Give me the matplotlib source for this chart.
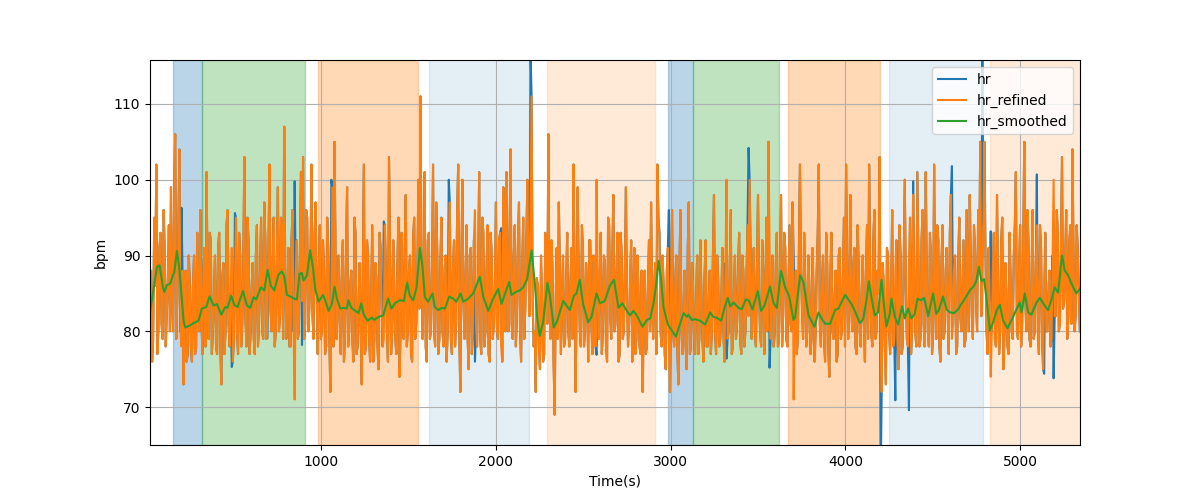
import matplotlib
matplotlib.use("Agg")
import matplotlib.pyplot as plt
import numpy as np

# heart rate, refined signal
# hr_refined_a: samples at t = 20, 32, 44, ... (every 12 s)
# hr_refined_b: samples at t = 26, 38, 50, ... (in between)
t_start = 20
t_step = 12
hr_refined_a = [
    83, 76, 95, 102, 80, 93, 79, 91, 82, 94,
    99, 80, 106, 84, 104, 78, 73, 88, 77, 86,
    76, 90, 78, 85, 96, 77, 91, 101, 79, 92,
    80, 90, 77, 93, 73, 89, 80, 96, 78, 91,
    79, 95, 77, 90, 81, 103, 78, 92, 80, 89,
    77, 94, 81, 95, 79, 92, 82, 102, 80, 95,
    80, 99, 82, 93, 107, 79, 91, 78, 96, 71,
    92, 80, 101, 103, 81, 95, 83, 102, 79, 97,
    77, 94, 80, 88, 78, 91, 72, 99, 105, 79,
    90, 77, 92, 79, 99, 80, 88, 76, 93, 78,
    89, 73, 102, 78, 90, 76, 94, 79, 87, 75,
    91, 78, 94, 80, 103, 77, 92, 79, 89, 74,
    93, 79, 98, 80, 90, 76, 95, 81, 100, 111,
    79, 101, 76, 93, 80, 102, 78, 91, 79, 95,
    78, 90, 80, 97, 77, 92, 81, 102, 72, 100,
    79, 94, 75, 91, 80, 96, 78, 101, 77, 93,
    80, 94, 76, 90, 81, 97, 79, 93, 76, 95,
    101, 80, 104, 79, 94, 82, 97, 76, 95, 83,
    100, 82, 111, 78, 72, 86, 75, 84, 77, 89,
    106, 79, 88, 69, 91, 97, 77, 90, 79, 93,
    78, 91, 102, 72, 99, 80, 94, 78, 89, 76,
    92, 77, 88, 100, 79, 93, 80, 89, 76, 94,
    79, 98, 81, 93, 77, 90, 80, 99, 78, 87,
    76, 91, 79, 85, 77, 72, 88, 78, 92, 97,
    79, 89, 102, 93, 78, 86, 75, 91, 72, 96,
    78, 90, 73, 96, 77, 88, 75, 97, 78, 86,
    77, 90, 79, 85, 76, 92, 78, 88, 80, 98,
    77, 87, 79, 91, 76, 100, 80, 96, 78, 90,
    81, 93, 77, 88, 80, 94, 100, 79, 91, 78,
    98, 80, 92, 77, 95, 105, 79, 90, 80, 93,
    79, 98, 82, 91, 78, 94, 80, 71, 88, 79,
    102, 83, 93, 78, 90, 77, 91, 76, 88, 102,
    78, 90, 76, 89, 74, 93, 79, 88, 77, 91,
    80, 95, 102, 79, 98, 80, 91, 77, 89, 78,
    90, 76, 94, 102, 80, 92, 79, 88, 103, 72,
    86, 73, 90, 77, 96, 79, 92, 75, 90, 78,
    100, 79, 89, 77, 98, 80, 101, 78, 92, 81,
    101, 80, 93, 77, 102, 79, 92, 76, 94, 80,
    91, 77, 98, 81, 90, 78, 95, 80, 92, 79,
    88, 98, 82, 94, 84, 96, 105, 85, 105, 80,
    91, 74, 88, 79, 98, 77, 92, 75, 89, 78,
    93, 80, 90, 101, 79, 94, 81, 105, 80, 92,
    78, 96, 80, 94, 77, 91, 75, 93, 80, 88,
    79, 100, 82, 93, 81, 103, 84, 96, 82, 94,
    104, 80, 94, 85,
]
hr_refined_b = [
    88, 79, 86, 77, 91, 81, 96, 78, 87, 80,
    84, 97, 79, 92, 80, 88, 85, 76, 90, 78,
    86, 77, 93, 80, 82, 88, 78, 84, 93, 77,
    85, 78, 91, 79, 87, 77, 94, 81, 85, 76,
    86, 80, 93, 78, 89, 82, 95, 77, 86, 79,
    90, 78, 88, 80, 97, 79, 91, 83, 88, 78,
    89, 80, 95, 79, 88, 84, 78, 92, 80, 87,
    79, 90, 84, 79, 96, 80, 89, 82, 93, 85,
    88, 79, 92, 77, 95, 80, 86, 78, 90, 84,
    81, 88, 76, 90, 78, 86, 79, 95, 77, 84,
    80, 87, 77, 92, 79, 85, 76, 89, 78, 93,
    83, 79, 88, 76, 90, 80, 86, 77, 95, 80,
    84, 91, 78, 88, 77, 92, 79, 87, 83, 90,
    86, 78, 92, 79, 88, 80, 97, 77, 89, 80,
    88, 76, 91, 79, 88, 78, 96, 80, 89, 84,
    87, 79, 90, 77, 92, 81, 88, 79, 95, 78,
    88, 77, 93, 79, 86, 80, 92, 78, 99, 80,
    88, 93, 81, 90, 78, 92, 80, 88, 79, 92,
    88, 96, 84, 80, 87, 78, 90, 76, 93, 81,
    85, 92, 76, 84, 79, 88, 84, 78, 87, 80,
    86, 79, 88, 84, 87, 78, 91, 80, 85, 92,
    81, 90, 78, 86, 88, 77, 90, 78, 95, 82,
    90, 80, 88, 76, 93, 79, 88, 84, 81, 92,
    83, 77, 90, 78, 88, 82, 77, 86, 80, 84,
    86, 77, 95, 80, 90, 77, 88, 79, 86, 80,
    86, 78, 88, 80, 83, 78, 91, 77, 89, 79,
    85, 77, 92, 79, 87, 78, 84, 77, 90, 80,
    90, 78, 84, 80, 89, 79, 88, 77, 85, 79,
    88, 79, 90, 78, 87, 82, 90, 86, 80, 88,
    85, 78, 88, 84, 80, 91, 85, 78, 89, 78,
    89, 78, 93, 79, 86, 81, 97, 82, 77, 90,
    88, 79, 87, 80, 86, 79, 85, 80, 93, 81,
    86, 79, 93, 78, 87, 80, 84, 76, 90, 79,
    87, 78, 89, 84, 83, 89, 78, 94, 80, 86,
    81, 88, 79, 87, 78, 96, 80, 85, 79, 89,
    78, 91, 80, 85, 78, 88, 79, 94, 77, 89,
    86, 78, 95, 80, 87, 78, 89, 79, 96, 78,
    88, 78, 90, 79, 85, 94, 78, 89, 79, 88,
    82, 93, 79, 88, 77, 89, 82, 86, 78, 96,
    80, 89, 79, 91, 80, 88, 82, 94, 90, 77,
    84, 80, 93, 78, 86, 80, 95, 79, 85, 77,
    87, 79, 94, 80, 88, 78, 92, 84, 96, 79,
    88, 79, 89, 80, 94, 79, 87, 80, 85, 78,
    90, 82, 96, 80, 91, 83, 89, 79, 92, 81,
    90, 82, 91, 80,
]

# raw hr differs from the refined signal only at these outliers
hr_outlier_t = [203, 489, 508, 695, 847, 889, 1061, 1357, 1729, 1881,
                2028, 2200, 2578, 2988, 3322, 3446, 3566, 3707, 4203, 4285,
                4367, 4386, 4609, 4786, 4832, 5096, 5138, 5191]
hr_outlier_v = [96.3, 75.3, 95.6, 79.1, 99.8, 78.2, 100.0, 94.5, 100.0, 76.0,
                93.6, 117.0, 76.9, 96.0, 76.4, 104.2, 75.2, 89.9, 60.0, 70.9,
                69.6, 99.8, 101.8, 117.0, 93.2, 100.7, 74.4, 73.8]

# smoothed hr
t_smooth = [21, 60, 75, 94, 102, 117, 136, 151, 159, 174, 189, 212, 222, 250, 279,
            298, 317, 342, 361, 384, 403, 428, 451, 464, 485, 502, 521, 552, 575,
            594, 613, 628, 655, 674, 693, 712, 731, 756, 775, 788, 804, 823, 846,
            861, 876, 889, 899, 918, 937, 952, 966, 985, 1010, 1023, 1042, 1061,
            1076, 1090, 1109, 1128, 1147, 1156, 1172, 1195, 1214, 1229, 1242, 1265,
            1290, 1303, 1328, 1355, 1383, 1402, 1422, 1450, 1473, 1492, 1507, 1527,
            1546, 1565, 1580, 1593, 1612, 1637, 1650, 1670, 1689, 1708, 1733, 1755,
            1774, 1797, 1813, 1841, 1870, 1908, 1927, 1956, 1984, 2013, 2032, 2051,
            2076, 2089, 2114, 2137, 2156, 2179, 2204, 2223, 2236, 2251, 2270, 2295,
            2309, 2331, 2351, 2385, 2404, 2423, 2446, 2461, 2480, 2499, 2528, 2547,
            2576, 2595, 2623, 2652, 2675, 2702, 2724, 2749, 2768, 2787, 2806, 2839,
            2864, 2883, 2902, 2915, 2931, 2946, 2959, 2984, 3007, 3030, 3054, 3074,
            3093, 3102, 3121, 3140, 3169, 3198, 3226, 3245, 3264, 3289, 3312, 3327,
            3341, 3360, 3388, 3407, 3430, 3446, 3468, 3499, 3518, 3537, 3569, 3589,
            3608, 3632, 3655, 3678, 3703, 3713, 3741, 3760, 3789, 3823, 3846, 3861,
            3884, 3913, 3941, 3960, 3999, 4035, 4054, 4083, 4102, 4121, 4134, 4149,
            4168, 4187, 4207, 4222, 4235, 4254, 4264, 4283, 4302, 4325, 4340, 4359,
            4378, 4397, 4413, 4432, 4451, 4474, 4502, 4521, 4535, 4559, 4579, 4598,
            4622, 4645, 4664, 4687, 4712, 4737, 4750, 4764, 4779, 4794, 4807, 4827,
            4846, 4865, 4884, 4903, 4928, 4950, 4979, 4998, 5008, 5027, 5046, 5065,
            5094, 5113, 5141, 5160, 5179, 5198, 5218, 5240, 5256, 5275, 5294, 5322,
            5345]
hr_smoothed = [82.7, 88.5, 88.7, 85.8, 85.2, 86.1, 86.3, 87.4, 87.8, 90.6, 88.1, 81.4,
               80.5, 80.8, 81.2, 81.4, 83.0, 83.2, 84.6, 83.4, 83.6, 82.2, 83.2, 83.1,
               84.7, 83.5, 83.2, 85.3, 83.4, 83.1, 84.5, 84.2, 85.8, 85.4, 88.1, 86.0,
               85.4, 87.5, 87.9, 87.3, 84.8, 84.6, 84.3, 84.2, 87.6, 87.7, 86.7, 87.4,
               90.7, 88.5, 85.5, 83.9, 84.8, 84.1, 82.7, 83.6, 85.9, 84.3, 83.0, 83.1,
               83.0, 84.1, 83.1, 82.7, 82.4, 83.7, 82.3, 81.4, 81.8, 81.5, 81.9, 82.1,
               84.3, 83.0, 83.7, 84.1, 84.0, 86.4, 84.7, 84.1, 85.8, 91.0, 88.5, 84.5,
               83.9, 85.0, 83.2, 82.8, 83.1, 83.0, 84.6, 84.3, 83.9, 85.0, 83.9, 84.3,
               85.0, 87.2, 84.6, 82.7, 84.3, 85.6, 83.6, 84.9, 86.5, 84.8, 85.2, 85.4,
               85.8, 86.9, 90.7, 86.2, 81.8, 79.4, 81.2, 86.4, 84.7, 80.5, 81.4, 84.0,
               83.4, 82.8, 84.7, 85.0, 86.8, 83.6, 81.2, 81.9, 85.0, 83.7, 84.0, 86.0,
               86.8, 83.1, 83.7, 82.7, 82.1, 82.7, 82.1, 80.6, 81.5, 81.7, 83.7, 85.8,
               89.3, 86.7, 83.2, 80.9, 80.1, 79.3, 81.0, 82.4, 81.9, 82.2, 81.5, 81.6,
               81.4, 80.9, 82.5, 81.9, 81.8, 81.4, 83.4, 84.4, 83.3, 83.8, 83.1, 82.9,
               84.2, 84.1, 82.9, 85.3, 82.7, 83.4, 85.9, 83.7, 83.1, 88.0, 85.8, 84.7,
               81.5, 81.9, 87.4, 86.5, 82.1, 80.6, 82.5, 81.8, 81.0, 81.0, 82.8, 83.0,
               84.8, 83.6, 82.7, 81.1, 81.6, 84.1, 86.6, 84.5, 82.1, 82.5, 86.8, 83.2,
               80.6, 82.3, 84.3, 81.9, 80.9, 83.3, 81.7, 83.0, 81.7, 82.3, 84.3, 84.1,
               84.4, 82.0, 85.0, 82.3, 82.8, 84.6, 82.9, 82.5, 82.4, 82.9, 83.6, 84.4,
               85.4, 86.0, 86.7, 88.5, 86.6, 86.9, 84.5, 80.1, 81.2, 82.7, 83.5, 81.4,
               80.4, 81.4, 82.9, 83.8, 82.5, 85.0, 82.5, 82.2, 83.8, 84.4, 83.4, 82.8,
               84.1, 85.8, 85.1, 90.0, 88.0, 87.4, 86.3, 85.0, 85.7]

# activity periods (seconds)
span_start = [153, 319, 983, 1618, 2293, 2986, 3129, 3672, 4250, 4828]
span_end = [319, 908, 1555, 2190, 2911, 3129, 3621, 4199, 4788, 5345]

span_color = ['tab:blue', 'tab:green', 'tab:orange', 'tab:blue', 'tab:orange',
              'tab:blue', 'tab:green', 'tab:orange', 'tab:blue', 'tab:orange']
span_alpha = [0.3, 0.3, 0.3, 0.12, 0.16, 0.3, 0.3, 0.3, 0.12, 0.16]

#interleave the two sample sets and build the raw hr
hr_refined = np.empty(len(hr_refined_a) + len(hr_refined_b))
hr_refined[0::2] = hr_refined_a
hr_refined[1::2] = hr_refined_b
t_refined = t_start + (t_step / 2) * np.arange(len(hr_refined))

hr = hr_refined.copy()
for tt, vv in zip(hr_outlier_t, hr_outlier_v):
    idx = int(np.argmin(np.abs(t_refined - tt)))
    hr[idx] = vv

fig, ax = plt.subplots(figsize=(12, 5), dpi=100)

for s, e, c, a in zip(span_start, span_end, span_color, span_alpha):
    ax.axvspan(s, e, color=c, alpha=a)

ax.plot(t_refined, hr, label='hr')
ax.plot(t_refined, hr_refined, label='hr_refined')
ax.plot(t_smooth, hr_smoothed, label='hr_smoothed')

ax.set_xlim(20, 5343)
ax.set_ylim(65, 115.8)
ax.set_xlabel('Time(s)')
ax.set_ylabel('bpm')
ax.grid()
ax.legend(loc='upper right')

fig.savefig('out.png')
